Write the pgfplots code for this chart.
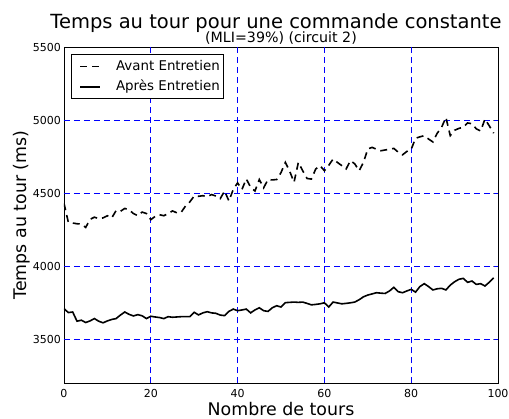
\documentclass[border=0pt]{standalone}
\usepackage{pgfplots}
\pgfplotsset{compat=1.18}
\usepackage{pgfplotstable}
\usetikzlibrary{backgrounds}
\usepackage{fontspec}
\setmainfont{DejaVu Sans}
\definecolor{gridblue}{RGB}{0,0,255}
\pgfplotstableread{
x y
0 4430
1 4300
2 4295
3 4290
4 4288
5 4265
6 4320
7 4335
8 4325
9 4330
10 4345
11 4330
12 4380
13 4375
14 4395
15 4385
16 4360
17 4345
18 4370
19 4360
20 4318
21 4340
22 4352
23 4345
24 4360
25 4378
26 4365
27 4368
28 4412
29 4440
30 4480
31 4478
32 4482
33 4475
34 4490
35 4480
36 4462
37 4514
38 4446
39 4525
40 4570
41 4525
42 4597
43 4540
44 4514
45 4593
46 4536
47 4593
48 4590
49 4593
50 4640
51 4710
52 4650
53 4574
54 4710
55 4653
56 4600
57 4596
58 4665
59 4688
60 4653
61 4690
62 4733
63 4710
64 4688
65 4665
66 4722
67 4700
68 4653
69 4710
70 4802
71 4813
72 4800
73 4790
74 4795
75 4800
76 4806
77 4780
78 4762
79 4785
80 4800
81 4875
82 4885
83 4893
84 4870
85 4850
86 4910
87 4950
88 5018
89 4893
90 4930
91 4943
92 4950
93 4980
94 4975
95 4940
96 4925
97 5007
98 4960
99 4910
}\avant
\pgfplotstableread{
x y
0 3709
1 3682
2 3686
3 3623
4 3630
5 3614
6 3625
7 3641
8 3623
9 3612
10 3625
11 3635
12 3641
13 3665
14 3686
15 3670
16 3659
17 3668
18 3660
19 3641
20 3657
21 3652
22 3648
23 3641
24 3654
25 3650
26 3652
27 3654
28 3654
29 3654
30 3684
31 3666
32 3680
33 3688
34 3680
35 3677
36 3665
37 3661
38 3690
39 3706
40 3695
41 3700
42 3706
43 3680
44 3700
45 3715
46 3695
47 3690
48 3715
49 3729
50 3720
51 3750
52 3752
53 3754
54 3752
55 3754
56 3745
57 3735
58 3738
59 3742
60 3749
61 3720
62 3754
63 3748
64 3742
65 3745
66 3749
67 3754
68 3770
69 3790
70 3802
71 3810
72 3818
73 3815
74 3813
75 3830
76 3855
77 3825
78 3818
79 3830
80 3841
81 3822
82 3860
83 3880
84 3860
85 3837
86 3845
87 3848
88 3837
89 3870
90 3893
91 3910
92 3916
93 3889
94 3898
95 3875
96 3880
97 3864
98 3890
99 3920
}\apres
\begin{document}
\begin{tikzpicture}
\begin{axis}[
  scale only axis,
  width=434pt, height=336pt,
  xmin=0, xmax=100, ymin=3200, ymax=5500,
  xtick={0,20,40,60,80,100},
  ytick={3500,4000,4500,5000,5500},
  /pgf/number format/set thousands separator={},
  /pgf/number format/assume math mode=true,
  tick label style={font=\fontsize{11}{13}\selectfont},
  xticklabel style={anchor=base, inner sep=0pt, yshift=-14.3pt},
  yticklabel style={anchor=east, inner sep=0pt, xshift=-3pt},
  tick align=inside,
  major tick length=5pt,
  tick style={line width=0.8pt},
  axis line style={black, line width=0.9pt},
  xlabel={Nombre de tours},
  ylabel={Temps au tour (ms)},
  label style={font=\fontsize{17.4}{20}\selectfont},
  xlabel style={at={(axis description cs:0.5,-0.0982)}, anchor=base, inner sep=0pt},
  ylabel style={at={(axis description cs:-0.0853,0.5)}, anchor=base, inner sep=0pt},
  legend cell align=left,
  legend style={at={(axis description cs:0.01544,0.97827)}, anchor=north west,
    draw=black, line width=0.8pt, fill=white,
    font=\fontsize{13.4}{16}\selectfont,
    inner xsep=3pt, inner ysep=5.5pt, row sep=8.3pt,
    nodes={inner sep=0pt, text height=9.8pt, text depth=2.6pt},
    /tikz/every odd column/.append style={column sep=15pt}},
  legend image code/.code={\path (0pt,0pt); \draw[#1] (5.3pt,0pt) -- (25.3pt,0pt);},
]
\addplot[forget plot, gridblue, line width=0.9pt, dash pattern=on 6pt off 4pt, unbounded coords=jump] coordinates {
(20,3200) (20,5500) (20,nan)
(40,3200) (40,5500) (40,nan)
(60,3200) (60,5500) (60,nan)
(80,3200) (80,5500) (80,nan)
(0,3500) (100,3500) (100,nan)
(0,4000) (100,4000) (100,nan)
(0,4500) (100,4500) (100,nan)
(0,5000) (100,5000)
};
\addplot[black, line width=1.6pt, dash pattern=on 7pt off 5pt] table[x=x,y=y] {\avant};
\addlegendentry{Avant Entretien}
\addplot[black, line width=1.6pt] table[x=x,y=y] {\apres};
\addlegendentry{Après Entretien}
\coordinate (bl) at (axis description cs:0,0);
\coordinate (tr) at (axis description cs:1,1);
\coordinate (tt) at (axis description cs:0.4885,1.0536);
\coordinate (st) at (axis description cs:0.5,1.0134);
\end{axis}
\node[anchor=base, font=\fontsize{19.5}{22}\selectfont, inner sep=0pt] at (tt) {Temps au tour pour une commande constante};
\node[anchor=base, font=\fontsize{14.2}{16}\selectfont, inner sep=0pt] at (st) {(MLI=39\%) (circuit 2)};
\begin{scope}[on background layer]
\fill[white] ([xshift=-64pt,yshift=-35pt]bl) rectangle ([xshift=11pt,yshift=47pt]tr);
\end{scope}
\pgfresetboundingbox
\path ([xshift=-64pt,yshift=-35pt]bl) rectangle ([xshift=11pt,yshift=47pt]tr);
\end{tikzpicture}
\end{document}
